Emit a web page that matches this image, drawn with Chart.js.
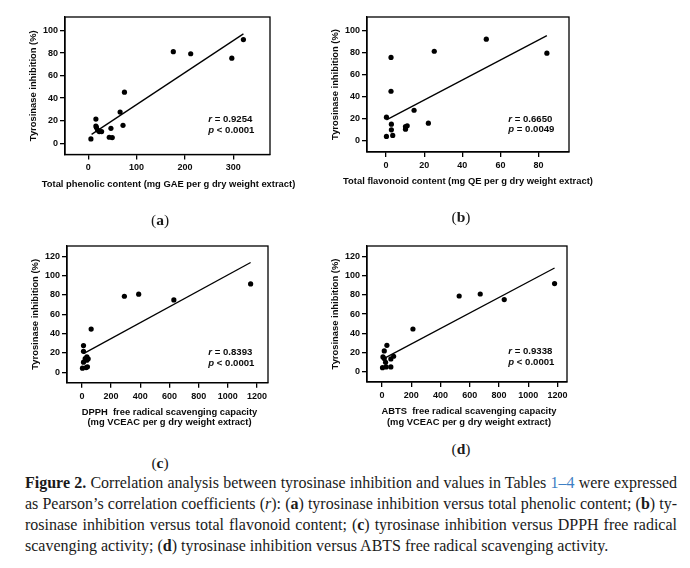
<!DOCTYPE html>
<html><head><meta charset="utf-8">
<script src="https://cdn.jsdelivr.net/npm/chart.js@4.4.1/dist/chart.umd.min.js"></script>
<style>
body{margin:0;background:#fff;width:690px;height:568px;position:relative;overflow:hidden}
canvas{position:absolute}
.lab{position:absolute;font-family:"Liberation Serif",serif;font-size:15.5px;color:#1a1a1a;transform:translate(-50%,-50%)}
.cap{position:absolute;left:25px;width:652px;font-family:"Liberation Serif",serif;font-size:16px;color:#1a1a1a;line-height:21px;text-align:justify;text-align-last:justify;white-space:nowrap}
.cap.last{text-align-last:left}
.blue{color:#3f7fc4}
</style></head><body>
<canvas id="cA" width="320" height="200" style="left:0;top:0"></canvas>
<canvas id="cB" width="280" height="200" style="left:320px;top:0"></canvas>
<canvas id="cC" width="320" height="215" style="left:0;top:225px"></canvas>
<canvas id="cD" width="280" height="215" style="left:320px;top:225px"></canvas>
<div class="lab" style="left:160px;top:220px">(<b>a</b>)</div>
<div class="lab" style="left:461px;top:217px">(<b>b</b>)</div>
<div class="lab" style="left:160px;top:463px">(<b>c</b>)</div>
<div class="lab" style="left:461px;top:449px">(<b>d</b>)</div>
<div class="cap" style="top:472px"><b>Figure 2.</b> Correlation analysis between tyrosinase inhibition and values in Tables <span class="blue">1–4</span> were expressed</div>
<div class="cap" style="top:493px">as Pearson’s correlation coefficients (<i>r</i>): (<b>a</b>) tyrosinase inhibition versus total phenolic content; (<b>b</b>) ty-</div>
<div class="cap" style="top:514px">rosinase inhibition versus total flavonoid content; (<b>c</b>) tyrosinase inhibition versus DPPH free radical</div>
<div class="cap last" style="top:535px">scavenging activity; (<b>d</b>) tyrosinase inhibition versus ABTS free radical scavenging activity.</div>
<script>
// ---------- data ----------
const yTitle = 'Tyrosinase inhibition (%)';

// (a) total phenolic content
const phenolicX = [5.6, 15.9, 15.9, 17, 19.4, 22.8, 27.7, 47, 43.5, 49.7, 66, 72, 75, 176, 212, 297, 321];
const phenolicY = [3.8, 21.4, 15.3, 14, 11.7, 10.3, 10.3, 13.2, 5.3, 5, 27.6, 15.9, 45.3, 81.2, 79.4, 75.5, 92];
const phenolicFit = [0.284, 5.9];      // slope, intercept
const phenolicFitRange = [7, 321];
const phenolicXTicks = [0, 100, 200, 300];
const phenolicYTicks = [0, 20, 40, 60, 80, 100];
const phenolicTitle = ['Total phenolic content (mg GAE per g dry weight extract)'];
const phenolicStats = ['= 0.9254', '< 0.0001'];

// (b) total flavonoid content
const flavonoidX = [0.2, 0.2, 2.6, 2.6, 2.8, 2.8, 3.5, 10.2, 11.1, 10.2, 14.7, 22.2, 25.3, 52.6, 84.4];
const flavonoidY = [3.9, 21.3, 75.4, 44.8, 15, 9.9, 4.8, 12.9, 13.5, 10.5, 27.6, 15.9, 81, 91.9, 79.3];
const flavonoidFit = [0.905, 18.7];
const flavonoidFitRange = [0.2, 84.4];
const flavonoidXTicks = [0, 20, 40, 60, 80];
const flavonoidYTicks = [0, 20, 40, 60, 80, 100];
const flavonoidTitle = ['Total flavonoid content (mg QE per g dry weight extract)'];
const flavonoidStats = ['= 0.6650', '= 0.0049'];

// (c) DPPH
const dpphX = [11, 11, 11, 4, 29, 38, 34, 22.5, 43, 34, 63.5, 291, 389, 630, 1156];
const dpphY = [27.5, 21.6, 10.3, 4.1, 4.8, 5.5, 15.8, 14, 13.8, 12.4, 44.6, 78.6, 80.7, 74.8, 91.3];
const dpphFit = [0.0824, 18.3];
const dpphFitRange = [11, 1156];
const dpphXTicks = [0, 200, 400, 600, 800, 1000, 1200];
const dpphYTicks = [0, 20, 40, 60, 80, 100, 120];
const dpphTitle = ['DPPH  free radical scavenging capacity', '(mg VCEAC per g dry weight extract)'];
const dpphStats = ['= 0.8393', '< 0.0001'];

// (d) ABTS
const abtsX = [34, 16, 7, 16, 25, 4, 29, 61, 61, 80, 212, 528, 672, 836, 1180];
const abtsY = [27.7, 21.8, 15.6, 13.9, 10, 4.5, 5.2, 5.2, 13.5, 16.3, 44.6, 78.8, 80.9, 75.1, 91.7];
const abtsFit = [0.0805, 12.9];
const abtsFitRange = [25, 1180];
const abtsXTicks = [0, 200, 400, 600, 800, 1000, 1200];
const abtsYTicks = [0, 20, 40, 60, 80, 100, 120];
const abtsTitle = ['ABTS  free radical scavenging capacity', '(mg VCEAC per g dry weight extract)'];
const abtsStats = ['= 0.9338', '< 0.0001'];

// ---------- drawing ----------
const FONT = '"Liberation Sans", Arial, sans-serif';
const INK = '#0a0a0a';

const panelDeco = {
  id: 'panelDeco',
  afterDraw(chart, args, o) {
    const ctx = chart.ctx, a = chart.chartArea;
    ctx.save();
    ctx.strokeStyle = '#000';
    ctx.lineWidth = 1.3;
    ctx.strokeRect(a.left, a.top, a.right - a.left, a.bottom - a.top);
    ctx.fillStyle = INK;
    ctx.textBaseline = 'middle';
    ctx.textAlign = 'center';
    ctx.font = 'bold 9.4px ' + FONT;
    const cx = (a.left + a.right) / 2 + o.titleDx;
    o.title.forEach((t, i) => ctx.fillText(t, cx, o.titleY + i * 10.5));
    ctx.textAlign = 'left';
    ['r', 'p'].forEach((s, i) => {
      const y = o.statY + i * o.statLH;
      ctx.font = 'italic bold 9.6px ' + FONT;
      ctx.fillText(s, o.statX, y);
      const w = ctx.measureText(s).width;
      ctx.font = 'bold 9.6px ' + FONT;
      ctx.fillText(' ' + o.stats[i], o.statX + w, y);
    });
    ctx.restore();
  }
};

function axis(min, max, ticks, fitFn, pad, extra) {
  return Object.assign({
    type: 'linear', min, max,
    afterBuildTicks: s => { s.ticks = ticks.map(v => ({ value: v })); },
    afterFit: fitFn,
    grid: { drawOnChartArea: false, drawTicks: true, tickLength: 5, color: '#000', lineWidth: 1.3 },
    border: { display: true, color: '#000', width: 1.3 },
    ticks: { font: { family: FONT, size: 9, weight: 'bold' }, color: INK, padding: pad, maxRotation: 0, autoSkip: false,
             callback: v => String(v) }
  }, extra || {});
}

function makePanel(id, xs, ys, fit, fitRange, xRange, xTicks, yRange, yTicks, lay, deco) {
  const pts = xs.map((x, i) => ({ x, y: ys[i] }));
  const line = fitRange.map(x => ({ x, y: fit[0] * x + fit[1] }));
  new Chart(document.getElementById(id), {
    type: 'scatter',
    data: {
      datasets: [
        { data: pts, backgroundColor: '#000', borderColor: '#000', pointRadius: 2.6, pointBorderWidth: 0 },
        { data: line, showLine: true, pointRadius: 0, borderColor: '#000', borderWidth: 1.3, fill: false }
      ]
    },
    options: {
      responsive: false, animation: false, devicePixelRatio: 1,
      layout: { padding: lay.padding },
      plugins: { legend: { display: false }, tooltip: { enabled: false }, panelDeco: deco },
      scales: {
        x: axis(xRange[0], xRange[1], xTicks, s => { s.height = lay.xH; }, 3),
        y: axis(yRange[0], yRange[1], yTicks, s => { s.width = lay.yW; }, 2, {
          title: { display: true, text: yTitle, color: INK, font: { family: FONT, size: 9.4, weight: 'bold' }, padding: { top: lay.yTitlePad, bottom: 0 } }
        })
      }
    },
    plugins: [panelDeco]
  });
}

makePanel('cA', phenolicX, phenolicY, phenolicFit, phenolicFitRange, [-48, 376], phenolicXTicks, [-10, 112], phenolicYTicks,
  { padding: { top: 17, right: 50, left: 0, bottom: 0 }, xH: 45.5, yW: 65, yTitlePad: 27.9 },
  { title: phenolicTitle, titleY: 184, titleDx: 1, stats: phenolicStats, statX: 208.3, statY: 119, statLH: 11 });

makePanel('cB', flavonoidX, flavonoidY, flavonoidFit, flavonoidFitRange, [-10, 96], flavonoidXTicks, [-10.2, 112], flavonoidYTicks,
  { padding: { top: 17, right: 31, left: 0, bottom: 0 }, xH: 48, yW: 47, yTitlePad: 9.9 },
  { title: flavonoidTitle, titleY: 181, titleDx: 0, stats: flavonoidStats, statX: 188.3, statY: 119, statLH: 10.5 });

makePanel('cC', dpphX, dpphY, dpphFit, dpphFitRange, [-102, 1275], dpphXTicks, [-10.9, 130.6], dpphYTicks,
  { padding: { top: 21, right: 52, left: 0, bottom: 0 }, xH: 57.3, yW: 67, yTitlePad: 29.4 },
  { title: dpphTitle, titleY: 187.3, titleDx: 2, stats: dpphStats, statX: 208.3, statY: 127.3, statLH: 11.5 });

makePanel('cD', abtsX, abtsY, abtsFit, abtsFitRange, [-102, 1265], abtsXTicks, [-10.4, 130.7], abtsYTicks,
  { padding: { top: 21, right: 33, left: 0, bottom: 0 }, xH: 58, yW: 47, yTitlePad: 9.9 },
  { title: abtsTitle, titleY: 186.5, titleDx: 2, stats: abtsStats, statX: 188.3, statY: 126.7, statLH: 10.8 });
</script>
</body></html>
